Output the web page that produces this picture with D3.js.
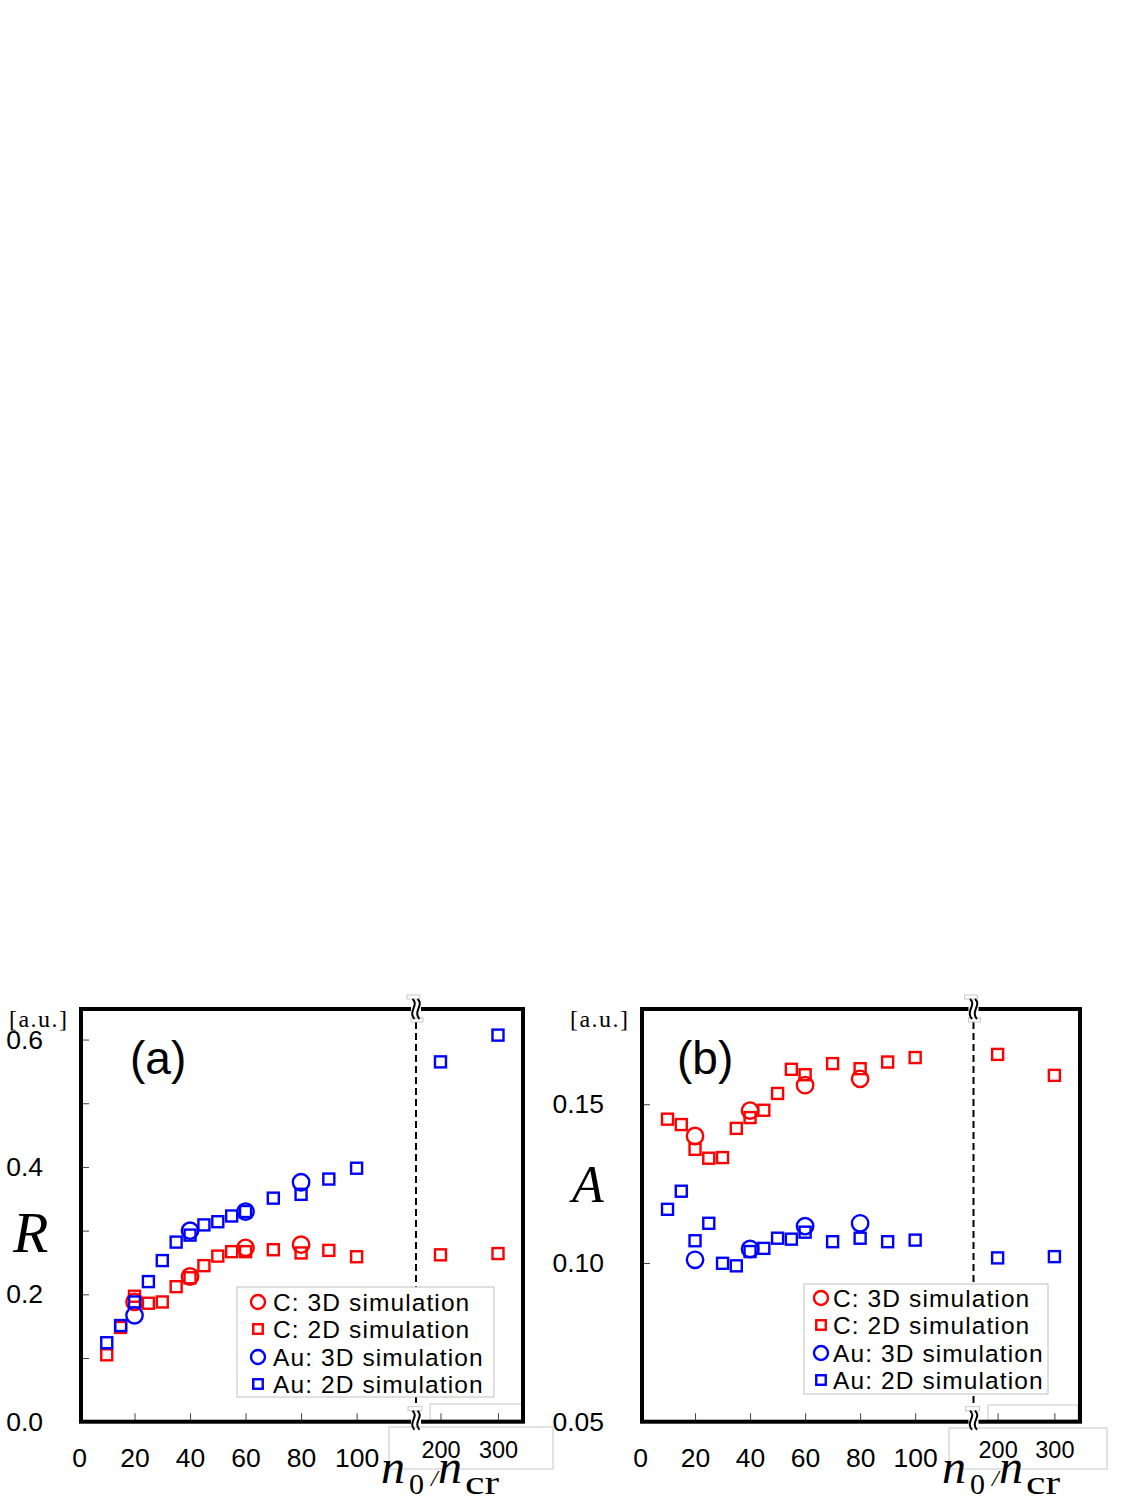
<!DOCTYPE html>
<html>
<head>
<meta charset="utf-8">
<script src="https://cdn.jsdelivr.net/npm/d3@7"></script>
<style>
  body { margin: 0; background: #fff; }
  svg text { font-family: "Liberation Sans", Arial, sans-serif; fill: #000; }
  svg text.serif { font-family: "Liberation Serif", "Times New Roman", serif; }
</style>
</head>
<body>
<div id="chart"></div>
<script>
// n0/ncr values: 2D runs on a fine grid, 3D runs only at four densities
const n2d = [10, 15, 20, 25, 30, 35, 40, 45, 50, 55, 60, 70, 80, 90, 100, 200, 300];
const n3d = [20, 40, 60, 80];

// (a) R [a.u.]
const rC3d = [0.188, 0.228, 0.273, 0.278];
const rC2d = [0.105, 0.148, 0.197, 0.186, 0.188, 0.212, 0.226, 0.245, 0.260, 0.267, 0.267, 0.270, 0.265, 0.269, 0.259, 0.262, 0.264];
const rAu3d = [0.167, 0.300, 0.330, 0.376];
const rAu2d = [0.124, 0.151, 0.188, 0.220, 0.253, 0.282, 0.293, 0.309, 0.314, 0.323, 0.330, 0.351, 0.357, 0.381, 0.398, 0.565, 0.607];

// (b) A [a.u.]
const aC3d = [0.140, 0.148, 0.156, 0.158];
const aC2d = [0.1453, 0.1436, 0.1358, 0.1330, 0.1332, 0.1424, 0.1458, 0.1481, 0.1534, 0.1610, 0.1593, 0.1628, 0.1612, 0.1633, 0.1647, 0.1657, 0.1591];
const aAu3d = [0.1010, 0.1044, 0.1116, 0.1125];
const aAu2d = [0.1169, 0.1226, 0.1070, 0.1125, 0.0999, 0.0991, 0.1036, 0.1046, 0.1078, 0.1075, 0.1097, 0.1067, 0.1078, 0.1067, 0.1072, 0.1016, 0.1020];

const legendLabels = ["C: 3D simulation", "C: 2D simulation", "Au: 3D simulation", "Au: 2D simulation"];
const xTicksLeft = [20, 40, 60, 80, 100];
const xLabelsLeft = [0, 20, 40, 60, 80, 100];
const xTicksRight = [200, 300];
const rTicks = [0.1, 0.2, 0.3, 0.4, 0.5, 0.6];
const rLabels = [0.0, 0.2, 0.4, 0.6];
const aTicks = [0.10, 0.15];
const aLabels = [0.05, 0.10, 0.15];

const RED = "#ff0000", BLUE = "#0000ff";

const panels = [
  {
    tag: "(a)", tagX: 130, yName: "R", x0: 79, xb: 416, x1: 523, top: 1009, bot: 1421.7,
    leftMax: 121.4, rightDomain: [157.4, 343.5], yDomain: [0, 0.648],
    yTicks: rTicks, yLabels: rLabels, yFmt: d3.format(".1f"),
    legend: { x: 237, y: 1287, w: 257, h: 110, mx: 258, tx: 273, rows: [1302, 1329, 1357, 1384] },
    series: [
      { xs: n2d, ys: rC2d, shape: "square", color: RED },
      { xs: n3d, ys: rC3d, shape: "circle", color: RED },
      { xs: n2d, ys: rAu2d, shape: "square", color: BLUE },
      { xs: n3d, ys: rAu3d, shape: "circle", color: BLUE }
    ],
    boxes: [[389, 1427, 164, 42], [430, 1404, 92, 16]]
  },
  {
    tag: "(b)", tagX: 677, yName: "A", x0: 640, xb: 973.5, x1: 1080, top: 1009, bot: 1421.7,
    leftMax: 121.2, rightDomain: [157.5, 345.1], yDomain: [0.05, 0.18],
    yTicks: aTicks, yLabels: aLabels, yFmt: d3.format(".2f"),
    legend: { x: 804, y: 1284, w: 244, h: 110, mx: 821, tx: 833, rows: [1298, 1325, 1353, 1380] },
    series: [
      { xs: n2d, ys: aC2d, shape: "square", color: RED },
      { xs: n3d, ys: aC3d, shape: "circle", color: RED },
      { xs: n2d, ys: aAu2d, shape: "square", color: BLUE },
      { xs: n3d, ys: aAu3d, shape: "circle", color: BLUE }
    ],
    boxes: [[949, 1428, 158, 41], [988, 1405, 90, 15]]
  }
];

const svg = d3.select("#chart").append("svg")
  .attr("width", 1125)
  .attr("height", 1500);

svg.append("rect").attr("width", 1125).attr("height", 1500).attr("fill", "#fff");

function marker(g, shape, color, x, y, size) {
  if (shape === "circle") {
    g.append("circle").attr("cx", x).attr("cy", y).attr("r", size)
      .attr("fill", "none").attr("stroke", color).attr("stroke-width", 2.4);
  } else {
    g.append("rect").attr("x", x - size / 2).attr("y", y - size / 2)
      .attr("width", size).attr("height", size)
      .attr("fill", "none").attr("stroke", color).attr("stroke-width", 2.4);
  }
}

// wavy double stroke marking the axis break
function breakMark(g, x, y0, y1) {
  const h = y1 - y0;
  [-2.5, 2.5].forEach(dx => {
    g.append("path")
      .attr("d", `M${x + dx - 1},${y0} C${x + dx + 6},${y0 + h * 0.3} ${x + dx - 6},${y0 + h * 0.6} ${x + dx + 1},${y1}`)
      .attr("fill", "none").attr("stroke", "#000").attr("stroke-width", 2);
  });
}

function drawPanel(p) {
  const g = svg.append("g");

  const xL = d3.scaleLinear().domain([0, p.leftMax]).range([p.x0, p.xb]);
  const xR = d3.scaleLinear().domain(p.rightDomain).range([p.xb, p.x1]);
  const xPos = v => (v < 140 ? xL(v) : xR(v));
  const y = d3.scaleLinear().domain(p.yDomain).range([p.bot, p.top]);

  // grey leftover boxes around the break labels
  p.boxes.forEach(b => {
    g.append("rect").attr("x", b[0]).attr("y", b[1]).attr("width", b[2]).attr("height", b[3])
      .attr("fill", "#fff").attr("stroke", "#c8c8c8").attr("stroke-width", 1);
  });

  // inward ticks
  const tickAxis = (axis, tx, ty) => {
    const a = g.append("g").attr("transform", `translate(${tx},${ty})`).call(axis);
    a.select(".domain").remove();
    a.selectAll(".tick line").attr("stroke", "#444").attr("stroke-width", 1);
    a.selectAll("text").remove();
  };
  tickAxis(d3.axisBottom(xL).tickValues(xTicksLeft).tickSize(-7), 0, p.bot - 1.5);
  tickAxis(d3.axisBottom(xR).tickValues(xTicksRight).tickSize(-7), 0, p.bot - 1.5);
  tickAxis(d3.axisLeft(y).tickValues(p.yTicks).tickSize(-8), p.x0 + 2, 0);

  // tick labels
  const yAx = g.append("g").attr("transform", `translate(${p.x0 - 36},0)`)
    .call(d3.axisLeft(y).tickValues(p.yLabels).tickSize(0).tickPadding(0).tickFormat(p.yFmt));
  yAx.select(".domain").remove();
  yAx.selectAll("text").attr("font-size", 26.5).attr("font-family", null).attr("fill", "#000");

  const xAx = g.append("g").attr("transform", `translate(0,${p.bot + 26})`)
    .call(d3.axisBottom(xL).tickValues(xLabelsLeft).tickSize(0).tickPadding(0));
  xAx.select(".domain").remove();
  xAx.selectAll("text").attr("font-size", 26.5).attr("font-family", null).attr("fill", "#000");

  const xAx2 = g.append("g").attr("transform", `translate(0,${p.bot + 20})`)
    .call(d3.axisBottom(xR).tickValues(xTicksRight).tickSize(0).tickPadding(0));
  xAx2.select(".domain").remove();
  xAx2.selectAll("text").attr("font-size", 23.5).attr("font-family", null).attr("fill", "#000");

  // dashed break line
  g.append("line").attr("x1", p.xb).attr("x2", p.xb).attr("y1", p.top + 13).attr("y2", p.bot - 16)
    .attr("stroke", "#000").attr("stroke-width", 2).attr("stroke-dasharray", "7,4");

  // frame
  g.append("rect").attr("x", p.x0 + 2).attr("y", p.top).attr("width", p.x1 - p.x0 - 2).attr("height", p.bot - p.top)
    .attr("fill", "none").attr("stroke", "#000").attr("stroke-width", 4);

  // breaks on top and bottom edges
  g.append("rect").attr("x", p.xb - 5).attr("y", p.top - 4).attr("width", 10).attr("height", 8).attr("fill", "#fff");
  g.append("rect").attr("x", p.xb - 5).attr("y", p.bot - 4).attr("width", 10).attr("height", 8).attr("fill", "#fff");
  g.append("rect").attr("x", p.xb - 9).attr("y", p.top - 14).attr("width", 13).attr("height", 4)
    .attr("fill", "#fff").attr("stroke", "#c8c8c8").attr("stroke-width", 1);
  g.append("rect").attr("x", p.xb - 5).attr("y", p.top + 9).attr("width", 12).attr("height", 4)
    .attr("fill", "#fff").attr("stroke", "#c8c8c8").attr("stroke-width", 1);
  g.append("rect").attr("x", p.xb - 8).attr("y", p.bot - 15).attr("width", 14).attr("height", 4)
    .attr("fill", "#fff").attr("stroke", "#c8c8c8").attr("stroke-width", 1);
  breakMark(g, p.xb, p.top - 10, p.top + 10);
  breakMark(g, p.xb, p.bot - 11, p.bot + 8);

  // data
  p.series.forEach(s => {
    s.xs.forEach((xv, i) => marker(g, s.shape, s.color, xPos(xv), y(s.ys[i]), s.shape === "circle" ? 8.2 : 11));
  });

  // legend
  const L = p.legend;
  g.append("rect").attr("x", L.x).attr("y", L.y).attr("width", L.w).attr("height", L.h)
    .attr("fill", "#fff").attr("stroke", "#c0c0c0").attr("stroke-width", 1);
  const legendOrder = [p.series[1], p.series[0], p.series[3], p.series[2]];
  legendOrder.forEach((s, i) => {
    marker(g, s.shape, s.color, L.mx, L.rows[i], s.shape === "circle" ? 7 : 9.5);
    g.append("text").attr("x", L.tx).attr("y", L.rows[i] + 8.5)
      .attr("font-size", 24.5).attr("letter-spacing", 1.1).text(legendLabels[i]);
  });

  // panel tag and axis names
  g.append("text").attr("x", p.tagX).attr("y", 1074).attr("font-size", 46).text(p.tag);
  g.append("text").attr("class", "serif").attr("x", p.x0 - 70).attr("y", 1027)
    .attr("font-size", 24).attr("textLength", 58).text("[a.u.]");
  g.append("text").attr("class", "serif").attr("x", p.x0 - (p.yName === "R" ? 66 : 68))
    .attr("y", p.yName === "R" ? 1252 : 1202)
    .attr("font-size", p.yName === "R" ? 58 : 52).attr("font-style", "italic").text(p.yName);

  // n0 / ncr
  const lx = p.x0 + 302;
  g.append("text").attr("class", "serif").attr("x", lx).attr("y", 1483).attr("font-size", 48).attr("font-style", "italic").text("n");
  g.append("text").attr("class", "serif").attr("x", lx + 28).attr("y", 1494).attr("font-size", 30).text("0");
  g.append("text").attr("class", "serif").attr("x", lx + 50).attr("y", 1486).attr("font-size", 24).attr("font-style", "italic").text("/");
  g.append("text").attr("class", "serif").attr("x", lx + 57).attr("y", 1483).attr("font-size", 48).attr("font-style", "italic").text("n");
  g.append("text").attr("class", "serif").attr("x", lx + 84).attr("y", 1494).attr("font-size", 33)
    .attr("textLength", 34).attr("lengthAdjust", "spacingAndGlyphs").text("cr");
}

panels.forEach(drawPanel);
</script>
</body>
</html>
